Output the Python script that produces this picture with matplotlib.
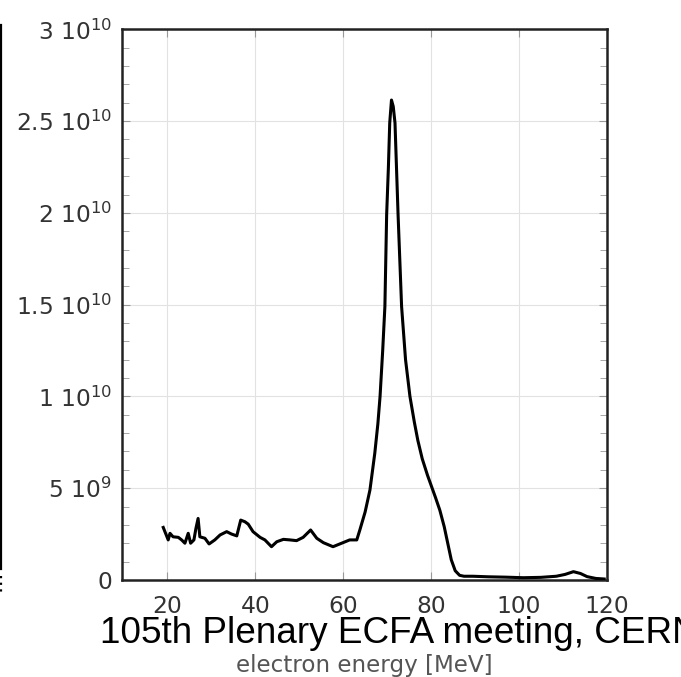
import numpy as np
import matplotlib
matplotlib.use('Agg')
import matplotlib.pyplot as plt
from matplotlib.lines import Line2D
from matplotlib.ticker import MultipleLocator

# spectrum (energy in MeV, counts in units of 1e9)
energy = [19.07, 19.45, 20.2, 20.6, 21.3, 22.5, 23.25, 24.0, 24.75, 25.3,
          26.05, 26.5, 27.0, 27.4, 28.55, 29.5, 30.8, 32.0, 33.5, 34.6,
          35.8, 36.7, 37.65, 38.4, 39.5, 41.1, 42.2, 43.7, 44.9, 46.4,
          47.9, 49.4, 50.9, 52.6, 54.0, 55.5, 57.7, 59.65, 61.5, 63.1,
          63.8, 65.0, 66.1, 67.2, 67.9, 68.4, 69.0, 69.5, 69.9, 70.3,
          70.6, 71.0, 71.4, 71.8, 72.5, 73.3, 74.2, 75.2, 76.2, 77.0,
          78.0, 79.2, 80.1, 81.0, 82.0, 83.0, 83.8, 84.6, 85.5, 86.5,
          87.5, 89.5, 93.0, 97.0, 101.0, 105.0, 108.5, 110.5, 112.4, 114.0,
          115.5, 117.5, 119.4]
counts_e9 = [2.86, 2.63, 2.18, 2.54, 2.35, 2.32, 2.18, 2.0, 2.54, 2.0,
             2.18, 2.8, 3.35, 2.35, 2.27, 1.96, 2.18, 2.45, 2.63, 2.5,
             2.4, 3.26, 3.17, 3.04, 2.63, 2.32, 2.18, 1.81, 2.08, 2.21,
             2.18, 2.14, 2.32, 2.72, 2.27, 2.03, 1.81, 2.0, 2.18, 2.18,
             2.72, 3.7, 4.9, 6.9, 8.5, 10.0, 12.5, 14.9, 19.9, 22.5,
             24.9, 26.15, 25.8, 24.9, 19.9, 14.9, 12.0, 10.0, 8.6, 7.6,
             6.6, 5.7, 5.1, 4.5, 3.8, 2.9, 2.0, 1.1, 0.5, 0.25,
             0.2, 0.2, 0.17, 0.15, 0.12, 0.14, 0.2, 0.3, 0.45, 0.35,
             0.18, 0.08, 0.05]

x_ticks = [20, 40, 60, 80, 100, 120]
y_ticks = [0, 5e9, 1e10, 1.5e10, 2e10, 2.5e10, 3e10]
y_labels = ['0', '5 10$^{\\mathregular{9}}$', '1 10$^{\\mathregular{10}}$',
            '1.5 10$^{\\mathregular{10}}$', '2 10$^{\\mathregular{10}}$',
            '2.5 10$^{\\mathregular{10}}$', '3 10$^{\\mathregular{10}}$']

plt.rcParams['font.family'] = ['DejaVu Sans']

fig = plt.figure(figsize=(6.81, 6.77), dpi=100)
ax = fig.add_axes([0.1786, 0.1434, 0.7125, 0.8132])

counts = np.array(counts_e9) * 1e9
ax.plot(energy, counts, color='black', lw=2.2, zorder=3)

ax.set_xlim(9.6, 120)
ax.set_ylim(0, 3e10)
ax.set_xticks(x_ticks)
ax.set_yticks(y_ticks)
ax.set_yticklabels(y_labels)
ax.yaxis.set_minor_locator(MultipleLocator(1e9))

ax.grid(True, color='#e2e2e2', lw=0.8)
ax.tick_params(which='both', direction='in', top=True, right=True,
               colors='#999999', labelcolor='#333333', labelsize=16.8)
ax.tick_params(which='major', length=6)
ax.tick_params(which='minor', length=5)
ax.tick_params(axis='x', pad=10.5)
ax.tick_params(axis='y', pad=7)
for sp in ax.spines.values():
    sp.set_linewidth(1.8)
    sp.set_color('#222222')

ax.set_xlabel('electron energy [MeV]', fontsize=16.6, color='#555555')
ax.xaxis.set_label_coords(0.5, -0.135)

# slide overlay text
fig.text(100 / 681, 1 - 643 / 677, '105th Plenary ECFA meeting, CERN',
         family=['Liberation Sans', 'DejaVu Sans'], fontsize=26.6,
         color='black', ha='left', va='baseline')

# cropped edge of the slide on the left
fig.add_artist(Line2D([0.002, 0.002], [1 - 25 / 677, 1 - 569 / 677],
                      color='black', lw=1.6))
fig.add_artist(Line2D([0.002, 0.002], [1 - 576 / 677, 1 - 595 / 677],
                      color='black', lw=1.6, ls=(0, (1, 2))))

plt.savefig('out.png', dpi=100)
